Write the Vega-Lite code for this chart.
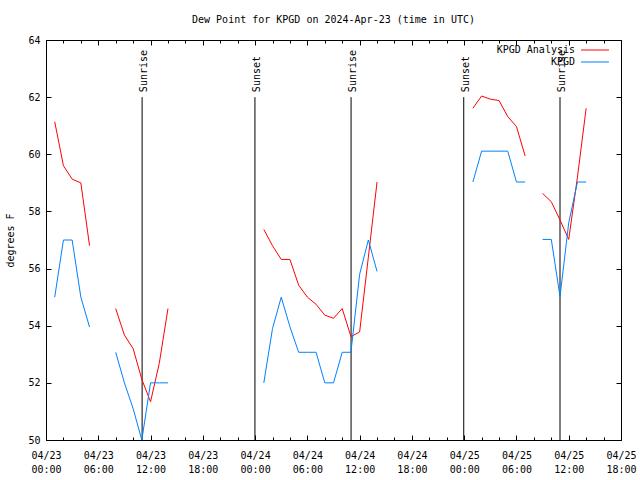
{
  "$schema": "https://vega.github.io/schema/vega-lite/v6.json",
  "width": 575,
  "height": 400,
  "autosize": {"type": "none"},
  "padding": {"left": 46, "top": 40, "right": 19, "bottom": 40},
  "background": "white",
  "title": {"text": "Dew Point for KPGD on 2024-Apr-23 (time in UTC)", "font": "DejaVu Sans Mono", "fontSize": 10, "fontWeight": "normal", "color": "black", "offset": 10, "anchor": "middle", "frame": "group"},
  "config": {
    "view": {"stroke": "black", "strokeWidth": 1},
    "axis": {"labelFont": "DejaVu Sans Mono", "labelFontSize": 10, "labelColor": "black", "tickColor": "black", "tickWidth": 1, "titleFont": "DejaVu Sans Mono", "titleFontSize": 10, "titleFontWeight": "normal", "titleColor": "black", "domain": false, "grid": false}
  },
  "datasets": {
    "sun": [
      {"t": "2024-04-23T11:02:00Z", "label": "Sunrise"},
      {"t": "2024-04-23T23:59:00Z", "label": "Sunset"},
      {"t": "2024-04-24T11:01:00Z", "label": "Sunrise"},
      {"t": "2024-04-24T23:57:00Z", "label": "Sunset"},
      {"t": "2024-04-25T11:00:00Z", "label": "Sunrise"}
    ],
    "obs": [
      {"series": "KPGD Analysis", "seg": 1, "t": "2024-04-23T01:00:00Z", "v": 61.14},
      {"series": "KPGD Analysis", "seg": 1, "t": "2024-04-23T02:00:00Z", "v": 59.6},
      {"series": "KPGD Analysis", "seg": 1, "t": "2024-04-23T03:00:00Z", "v": 59.13},
      {"series": "KPGD Analysis", "seg": 1, "t": "2024-04-23T04:00:00Z", "v": 59.0},
      {"series": "KPGD Analysis", "seg": 1, "t": "2024-04-23T05:00:00Z", "v": 56.8},
      {"series": "KPGD Analysis", "seg": 2, "t": "2024-04-23T08:00:00Z", "v": 54.6},
      {"series": "KPGD Analysis", "seg": 2, "t": "2024-04-23T09:00:00Z", "v": 53.67},
      {"series": "KPGD Analysis", "seg": 2, "t": "2024-04-23T10:00:00Z", "v": 53.2},
      {"series": "KPGD Analysis", "seg": 2, "t": "2024-04-23T11:00:00Z", "v": 52.12},
      {"series": "KPGD Analysis", "seg": 2, "t": "2024-04-23T12:00:00Z", "v": 51.34},
      {"series": "KPGD Analysis", "seg": 2, "t": "2024-04-23T13:00:00Z", "v": 52.68},
      {"series": "KPGD Analysis", "seg": 2, "t": "2024-04-23T14:00:00Z", "v": 54.6},
      {"series": "KPGD Analysis", "seg": 3, "t": "2024-04-24T01:00:00Z", "v": 57.37},
      {"series": "KPGD Analysis", "seg": 3, "t": "2024-04-24T02:00:00Z", "v": 56.8},
      {"series": "KPGD Analysis", "seg": 3, "t": "2024-04-24T03:00:00Z", "v": 56.32},
      {"series": "KPGD Analysis", "seg": 3, "t": "2024-04-24T04:00:00Z", "v": 56.32},
      {"series": "KPGD Analysis", "seg": 3, "t": "2024-04-24T05:00:00Z", "v": 55.42},
      {"series": "KPGD Analysis", "seg": 3, "t": "2024-04-24T06:00:00Z", "v": 55.0},
      {"series": "KPGD Analysis", "seg": 3, "t": "2024-04-24T07:00:00Z", "v": 54.75},
      {"series": "KPGD Analysis", "seg": 3, "t": "2024-04-24T08:00:00Z", "v": 54.37},
      {"series": "KPGD Analysis", "seg": 3, "t": "2024-04-24T09:00:00Z", "v": 54.26},
      {"series": "KPGD Analysis", "seg": 3, "t": "2024-04-24T10:00:00Z", "v": 54.6},
      {"series": "KPGD Analysis", "seg": 3, "t": "2024-04-24T11:00:00Z", "v": 53.62},
      {"series": "KPGD Analysis", "seg": 3, "t": "2024-04-24T12:00:00Z", "v": 53.78},
      {"series": "KPGD Analysis", "seg": 3, "t": "2024-04-24T13:00:00Z", "v": 56.4},
      {"series": "KPGD Analysis", "seg": 3, "t": "2024-04-24T14:00:00Z", "v": 59.03},
      {"series": "KPGD Analysis", "seg": 4, "t": "2024-04-25T01:00:00Z", "v": 61.61},
      {"series": "KPGD Analysis", "seg": 4, "t": "2024-04-25T02:00:00Z", "v": 62.04},
      {"series": "KPGD Analysis", "seg": 4, "t": "2024-04-25T03:00:00Z", "v": 61.93},
      {"series": "KPGD Analysis", "seg": 4, "t": "2024-04-25T04:00:00Z", "v": 61.88},
      {"series": "KPGD Analysis", "seg": 4, "t": "2024-04-25T05:00:00Z", "v": 61.32},
      {"series": "KPGD Analysis", "seg": 4, "t": "2024-04-25T06:00:00Z", "v": 60.97},
      {"series": "KPGD Analysis", "seg": 4, "t": "2024-04-25T07:00:00Z", "v": 59.94},
      {"series": "KPGD Analysis", "seg": 5, "t": "2024-04-25T09:00:00Z", "v": 58.63},
      {"series": "KPGD Analysis", "seg": 5, "t": "2024-04-25T10:00:00Z", "v": 58.34},
      {"series": "KPGD Analysis", "seg": 5, "t": "2024-04-25T11:00:00Z", "v": 57.7},
      {"series": "KPGD Analysis", "seg": 5, "t": "2024-04-25T12:00:00Z", "v": 57.02},
      {"series": "KPGD Analysis", "seg": 5, "t": "2024-04-25T13:00:00Z", "v": 59.2},
      {"series": "KPGD Analysis", "seg": 5, "t": "2024-04-25T14:00:00Z", "v": 61.61},
      {"series": "KPGD", "seg": 1, "t": "2024-04-23T01:00:00Z", "v": 55.0},
      {"series": "KPGD", "seg": 1, "t": "2024-04-23T02:00:00Z", "v": 57.0},
      {"series": "KPGD", "seg": 1, "t": "2024-04-23T03:00:00Z", "v": 57.0},
      {"series": "KPGD", "seg": 1, "t": "2024-04-23T04:00:00Z", "v": 55.0},
      {"series": "KPGD", "seg": 1, "t": "2024-04-23T05:00:00Z", "v": 53.95},
      {"series": "KPGD", "seg": 2, "t": "2024-04-23T08:00:00Z", "v": 53.07},
      {"series": "KPGD", "seg": 2, "t": "2024-04-23T09:00:00Z", "v": 52.0},
      {"series": "KPGD", "seg": 2, "t": "2024-04-23T10:00:00Z", "v": 51.1},
      {"series": "KPGD", "seg": 2, "t": "2024-04-23T11:00:00Z", "v": 50.0},
      {"series": "KPGD", "seg": 2, "t": "2024-04-23T12:00:00Z", "v": 52.0},
      {"series": "KPGD", "seg": 2, "t": "2024-04-23T13:00:00Z", "v": 52.0},
      {"series": "KPGD", "seg": 2, "t": "2024-04-23T14:00:00Z", "v": 52.0},
      {"series": "KPGD", "seg": 3, "t": "2024-04-24T01:00:00Z", "v": 52.0},
      {"series": "KPGD", "seg": 3, "t": "2024-04-24T02:00:00Z", "v": 53.9},
      {"series": "KPGD", "seg": 3, "t": "2024-04-24T03:00:00Z", "v": 55.0},
      {"series": "KPGD", "seg": 3, "t": "2024-04-24T04:00:00Z", "v": 53.96},
      {"series": "KPGD", "seg": 3, "t": "2024-04-24T05:00:00Z", "v": 53.07},
      {"series": "KPGD", "seg": 3, "t": "2024-04-24T06:00:00Z", "v": 53.07},
      {"series": "KPGD", "seg": 3, "t": "2024-04-24T07:00:00Z", "v": 53.07},
      {"series": "KPGD", "seg": 3, "t": "2024-04-24T08:00:00Z", "v": 52.0},
      {"series": "KPGD", "seg": 3, "t": "2024-04-24T09:00:00Z", "v": 52.0},
      {"series": "KPGD", "seg": 3, "t": "2024-04-24T10:00:00Z", "v": 53.07},
      {"series": "KPGD", "seg": 3, "t": "2024-04-24T11:00:00Z", "v": 53.07},
      {"series": "KPGD", "seg": 3, "t": "2024-04-24T12:00:00Z", "v": 55.8},
      {"series": "KPGD", "seg": 3, "t": "2024-04-24T13:00:00Z", "v": 57.0},
      {"series": "KPGD", "seg": 3, "t": "2024-04-24T14:00:00Z", "v": 55.9},
      {"series": "KPGD", "seg": 4, "t": "2024-04-25T01:00:00Z", "v": 59.03},
      {"series": "KPGD", "seg": 4, "t": "2024-04-25T02:00:00Z", "v": 60.11},
      {"series": "KPGD", "seg": 4, "t": "2024-04-25T03:00:00Z", "v": 60.11},
      {"series": "KPGD", "seg": 4, "t": "2024-04-25T04:00:00Z", "v": 60.11},
      {"series": "KPGD", "seg": 4, "t": "2024-04-25T05:00:00Z", "v": 60.11},
      {"series": "KPGD", "seg": 4, "t": "2024-04-25T06:00:00Z", "v": 59.03},
      {"series": "KPGD", "seg": 4, "t": "2024-04-25T07:00:00Z", "v": 59.03},
      {"series": "KPGD", "seg": 5, "t": "2024-04-25T09:00:00Z", "v": 57.02},
      {"series": "KPGD", "seg": 5, "t": "2024-04-25T10:00:00Z", "v": 57.02},
      {"series": "KPGD", "seg": 5, "t": "2024-04-25T11:00:00Z", "v": 55.02},
      {"series": "KPGD", "seg": 5, "t": "2024-04-25T12:00:00Z", "v": 57.6},
      {"series": "KPGD", "seg": 5, "t": "2024-04-25T13:00:00Z", "v": 59.03},
      {"series": "KPGD", "seg": 5, "t": "2024-04-25T14:00:00Z", "v": 59.03}
    ]
  },
  "layer": [
    {
      "data": {"name": "sun"},
      "mark": {"type": "rule", "color": "black", "strokeWidth": 1},
      "encoding": {
        "x": {"field": "t", "type": "temporal", "scale": {"type": "utc", "domain": [1713830400000, 1714068000000]},
          "axis": {"orient": "top", "title": null, "labels": false, "tickSize": -5, "values": [1713830400000,1713852000000,1713873600000,1713895200000,1713916800000,1713938400000,1713960000000,1713981600000,1714003200000,1714024800000,1714046400000,1714068000000]}},
        "y": {"datum": 50, "type": "quantitative", "axis": {"orient": "right", "title": null, "labels": false, "tickSize": -5, "values": [50,52,54,56,58,60,62,64]}},
        "y2": {"datum": 62}
      }
    },
    {
      "data": {"name": "sun"},
      "mark": {"type": "text", "angle": 270, "align": "left", "baseline": "middle", "dx": 5, "dy": 2, "font": "DejaVu Sans Mono", "fontSize": 10, "color": "black"},
      "encoding": {
        "x": {"field": "t", "type": "temporal",
          "axis": {"orient": "top", "title": null, "labels": false, "tickSize": -3, "values": [1713830400000,1713837600000,1713844800000,1713852000000,1713859200000,1713866400000,1713873600000,1713880800000,1713888000000,1713895200000,1713902400000,1713909600000,1713916800000,1713924000000,1713931200000,1713938400000,1713945600000,1713952800000,1713960000000,1713967200000,1713974400000,1713981600000,1713988800000,1713996000000,1714003200000,1714010400000,1714017600000,1714024800000,1714032000000,1714039200000,1714046400000,1714053600000,1714060800000,1714068000000]}},
        "y": {"datum": 62, "type": "quantitative", "axis": null},
        "text": {"field": "label"}
      }
    },
    {
      "data": {"name": "obs"},
      "transform": [{"filter": "datum.series == 'KPGD Analysis'"}],
      "mark": {"type": "line", "strokeWidth": 1},
      "encoding": {
        "x": {"field": "t", "type": "temporal",
          "axis": {"orient": "bottom", "title": null, "tickSize": -5, "labelPadding": 15, "labelFlush": false, "labelOverlap": false, "labelLineHeight": 14,
            "labelExpr": "[utcFormat(datum.value, '%m/%d'), utcFormat(datum.value, '%H:%M')]",
            "values": [1713830400000,1713852000000,1713873600000,1713895200000,1713916800000,1713938400000,1713960000000,1713981600000,1714003200000,1714024800000,1714046400000,1714068000000]}},
        "y": {"field": "v", "type": "quantitative", "scale": {"domain": [50, 64], "nice": false, "zero": false},
          "axis": {"orient": "left", "title": "degrees F", "titlePadding": 12, "tickSize": -5, "labelPadding": 11, "values": [50,52,54,56,58,60,62,64]}},
        "color": {"field": "series", "type": "nominal",
          "scale": {"domain": ["KPGD Analysis", "KPGD"], "range": ["#ff0000", "#0080ff"]},
          "legend": {"orient": "none", "legendX": 542.5, "legendY": 3.5, "title": null, "padding": 0, "symbolType": "M-2.33,0H2.33", "symbolSize": 144, "symbolStrokeWidth": 1, "rowPadding": 0, "labelAlign": "right", "labelOffset": -26.5, "labelFont": "DejaVu Sans Mono", "labelFontSize": 10, "labelColor": "black",
            "labelExpr": "datum.label == 'KPGD' ? '         KPGD' : datum.label"}},
        "detail": {"field": "seg", "type": "nominal"}
      }
    },
    {
      "data": {"name": "obs"},
      "transform": [{"filter": "datum.series == 'KPGD'"}],
      "mark": {"type": "line", "strokeWidth": 1},
      "encoding": {
        "x": {"field": "t", "type": "temporal",
          "axis": {"orient": "bottom", "title": null, "labels": false, "tickSize": -3, "values": [1713830400000,1713837600000,1713844800000,1713852000000,1713859200000,1713866400000,1713873600000,1713880800000,1713888000000,1713895200000,1713902400000,1713909600000,1713916800000,1713924000000,1713931200000,1713938400000,1713945600000,1713952800000,1713960000000,1713967200000,1713974400000,1713981600000,1713988800000,1713996000000,1714003200000,1714010400000,1714017600000,1714024800000,1714032000000,1714039200000,1714046400000,1714053600000,1714060800000,1714068000000]}},
        "y": {"field": "v", "type": "quantitative", "axis": null},
        "color": {"field": "series", "type": "nominal",
          "legend": {"orient": "none", "legendX": 542.5, "legendY": 3.5, "title": null, "padding": 0, "symbolType": "M-2.33,0H2.33", "symbolSize": 144, "symbolStrokeWidth": 1, "rowPadding": 0, "labelAlign": "right", "labelOffset": -26.5, "labelFont": "DejaVu Sans Mono", "labelFontSize": 10, "labelColor": "black",
            "labelExpr": "datum.label == 'KPGD' ? '         KPGD' : datum.label"}},
        "detail": {"field": "seg", "type": "nominal"}
      }
    }
  ],
  "resolve": {"axis": {"x": "independent", "y": "independent"}}
}
